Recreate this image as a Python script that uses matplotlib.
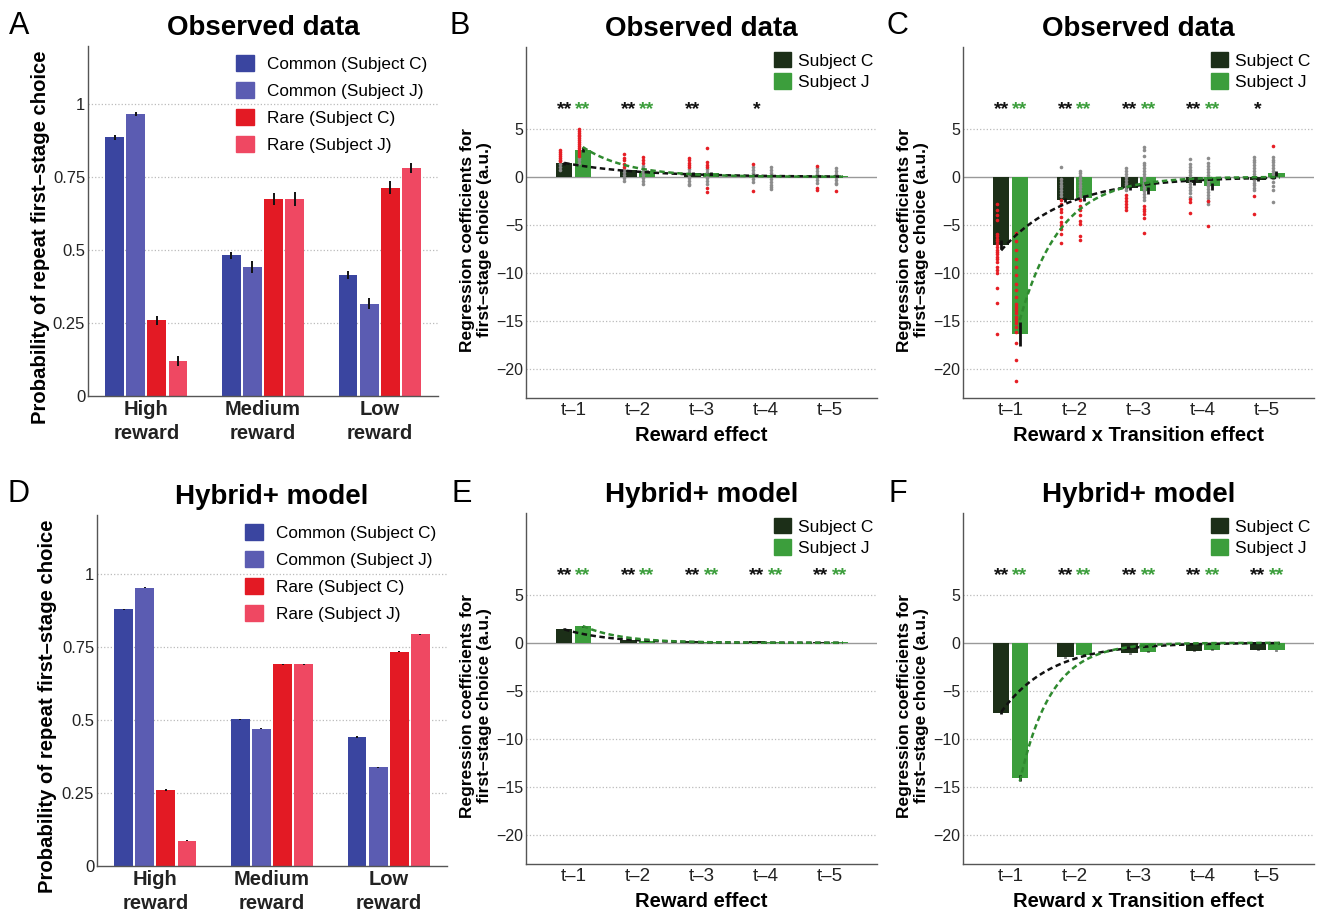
import numpy as np
import matplotlib
matplotlib.use('Agg')
import matplotlib.pyplot as plt
from matplotlib.patches import Patch

plt.rcParams['font.family'] = ['Liberation Sans', 'DejaVu Sans']

# ---- probability panels (A observed, D model) ----
groups = ['High\nreward', 'Medium\nreward', 'Low\nreward']
prob_labels = ['Common (Subject C)', 'Common (Subject J)', 'Rare (Subject C)', 'Rare (Subject J)']
prob_colors = ['#3a45a0', '#5b5cb2', '#e31a24', '#ef4862']

a_common_c = [0.887, 0.482, 0.415]
a_common_j = [0.967, 0.442, 0.316]
a_rare_c = [0.259, 0.675, 0.714]
a_rare_j = [0.120, 0.675, 0.782]
a_err_common_c = [0.008, 0.013, 0.013]
a_err_common_j = [0.007, 0.020, 0.019]
a_err_rare_c = [0.014, 0.020, 0.022]
a_err_rare_j = [0.018, 0.025, 0.018]

d_common_c = [0.878, 0.502, 0.441]
d_common_j = [0.951, 0.469, 0.338]
d_rare_c = [0.260, 0.690, 0.733]
d_rare_j = [0.087, 0.690, 0.792]
d_err = [0.002, 0.002, 0.002]

# ---- regression panels ----
lags = ['t\u20131', 't\u20132', 't\u20133', 't\u20134', 't\u20135']
subj_colors = ['#1c2f18', '#3c9e3c']
red = '#e61e25'
gray = '#8c8c8c'

# B: reward effect, observed
b_c = [1.42, 0.66, 0.38, 0.20, 0.10]
b_j = [2.84, 0.59, 0.35, 0.14, 0.07]
b_c_err = [0.15, 0.10, 0.10, 0.10, 0.10]
b_j_err = [0.25, 0.10, 0.10, 0.10, 0.10]
b_fit_c = (1.45, 1.15)   # amplitude, decay
b_fit_j = (3.1, 0.7)
b_stars_c = ['**', '**', '**', '*', '']
b_stars_j = ['**', '**', '', '', '']
b_red_c = [[2.8, 2.6, 2.4, 2.2, 2.0, 1.8, 1.6], [2.4, 2.0, 1.7, 1.35, 1.05],
           [1.95, 1.7, 1.45, 1.2, 1.0], [1.3, -1.5], [1.15, -1.15, -1.35]]
b_gray_c = [[1.3, 1.0, 0.7], [0.8, 0.5, 0.2, -0.1, -0.4],
            [0.8, 0.5, 0.2, -0.1, -0.4, -0.7, -0.9], [1.0, 0.7, 0.4, 0.1, -0.2, -0.5],
            [0.9, 0.6, 0.3, 0.0, -0.3, -0.6]]
b_red_j = [[5.0, 4.8, 4.6, 4.4, 4.2, 4.0, 3.8, 3.6, 3.4, 3.2, 3.0, 2.8, 2.6, 2.4, 2.2],
           [2.05, 1.7, 1.45], [3.0, 1.5, 1.25, 1.0, -1.15, -1.6], [], [-1.5]]
b_gray_j = [[2.0, 1.7, 1.4], [1.1, 0.8, 0.5, 0.2, -0.1, -0.4, -0.7],
            [0.8, 0.5, 0.2, -0.1, -0.4, -0.7],
            [1.0, 0.7, 0.4, 0.1, -0.2, -0.5, -0.8, -1.1, -1.25],
            [0.9, 0.6, 0.3, 0.0, -0.3, -0.6, -0.75]]

# C: reward x transition effect, observed
c_c = [-7.06, -2.42, -1.14, -0.62, -0.28]
c_j = [-16.3, -2.18, -1.45, -1.00, 0.35]
c_c_err = [0.45, 0.25, 0.25, 0.25, 0.20]
c_j_err = [1.25, 0.30, 0.35, 0.35, 0.30]
c_fit_c = (-7.65, 1.0)
c_fit_j = (-14.9, 0.63)
c_stars_c = ['**', '**', '**', '**', '*']
c_stars_j = ['**', '**', '**', '**', '']
c_red_c = [[-2.8, -3.5, -4.0, -4.5, -5.9, -6.2, -6.45, -6.7, -6.95, -7.3, -7.65, -7.85, -8.0,
            -8.3, -8.5, -8.85, -9.4, -9.7, -10.0, -11.6, -13.1, -16.3],
           [-2.45, -2.8, -3.35, -3.65, -4.2, -4.7, -5.05, -5.4, -5.9, -6.9],
           [-1.9, -2.2, -2.5, -2.8, -3.1, -3.4], [-2.3, -2.6, -3.75], [-2.0, -3.85]]
c_gray_c = [[], [1.0, -0.2, -0.5, -0.8, -1.1, -1.4, -1.7, -2.0],
            [0.9, 0.6, 0.3, 0.0, -0.3, -0.6, -0.9, -1.2, -1.4],
            [1.9, 1.35, 1.05, 0.75, 0.45, 0.15, -0.15, -0.45, -0.75, -1.05, -1.35, -1.7, -2.1],
            [2.1, 1.8, 1.5, 1.2, 0.9, 0.6, 0.3, 0.0, -0.3, -0.6, -0.9, -1.2, -1.4]]
c_red_j = [[-5.85, -6.7, -7.6, -8.5, -9.4, -10.25, -11.1, -11.8, -12.5, -13.2, -13.5, -13.9,
            -14.2, -14.6, -14.9, -15.2, -15.6, -16.1, -17.3, -19.1, -21.2],
           [-2.45, -3.0, -3.5, -4.0, -4.55, -4.9, -6.2, -6.6],
           [-3.0, -3.3, -3.6, -3.9, -4.3, -5.85], [-2.5, -5.15], [3.25]]
c_gray_j = [[], [0.65, 0.4, 0.1, -0.2, -0.5, -0.8, -1.1, -1.4, -1.7, -2.0, -2.3],
            [3.15, 2.8, 2.2, 1.4, 1.2, 0.9, 0.6, 0.3, 0.0, -0.3, -0.6, -0.9, -1.2, -1.5,
             -1.8, -2.1, -2.4],
            [2.0, 1.4, 1.1, 0.8, 0.5, 0.2, -0.1, -0.4, -0.7, -1.0, -1.3, -1.6, -1.9, -2.2,
             -2.5, -2.8],
            [2.1, 1.8, 1.5, 1.2, 0.9, 0.6, 0.3, -0.1, -0.5, -1.0, -1.4, -2.65]]

# E: reward effect, model
e_c = [1.45, 0.31, 0.17, 0.14, 0.10]
e_j = [1.70, 0.20, 0.10, 0.07, 0.07]
e_err = [0.05, 0.03, 0.03, 0.03, 0.03]
e_fit_c = (1.4, 0.7)
e_fit_j = (1.75, 0.6)
e_stars = ['**', '**', '**', '**', '**']

# F: reward x transition effect, model
f_c = [-7.30, -1.49, -1.07, -0.83, -0.73]
f_j = [-14.05, -1.25, -0.93, -0.73, -0.76]
f_c_err = [0.10, 0.05, 0.05, 0.05, 0.05]
f_j_err = [0.30, 0.05, 0.05, 0.05, 0.05]
f_fit_c = (-7.2, 0.78)
f_fit_j = (-14.4, 0.49)


W, H = 1326, 916
fig = plt.figure(figsize=(W / 100, H / 100), dpi=100)


def px_axes(left, top, right, bottom):
    return fig.add_axes([left / W, 1 - bottom / H, (right - left) / W, (bottom - top) / H])


def style_axes(ax):
    for s in ['top', 'right']:
        ax.spines[s].set_visible(False)
    for s in ['left', 'bottom']:
        ax.spines[s].set_color('#555555')
        ax.spines[s].set_linewidth(1.0)
    ax.tick_params(length=0, colors='#222222')


def prob_panel(ax, series, errs, title, label_x):
    style_axes(ax)
    x = np.arange(1, len(groups) + 1)
    pitch = 0.181
    for i, (vals, err) in enumerate(zip(series, errs)):
        xi = x + (i - 1.5) * pitch
        ax.bar(xi, vals, width=0.162, color=prob_colors[i], label=prob_labels[i], zorder=2)
        ax.errorbar(xi, vals, yerr=err, fmt='none', ecolor='#111111', elinewidth=1.4,
                    capsize=0, zorder=3)
    ax.set_xlim(0.5, 3.5)
    ax.set_ylim(0, 1.2)
    ax.set_yticks([0, 0.25, 0.5, 0.75, 1])
    ax.set_yticklabels(['0', '0.25', '0.5', '0.75', '1'], fontsize=12)
    ax.set_xticks(x)
    ax.set_xticklabels(groups, fontsize=14.5, fontweight='bold', linespacing=1.35)
    ax.tick_params(axis='y', pad=2)
    ax.tick_params(axis='x', pad=3)
    for yv in [0.25, 0.5, 0.75, 1]:
        ax.axhline(yv, color='#bbbbbb', ls=':', lw=0.9, zorder=0)
    ax.set_ylabel('Probability of repeat first\u2013stage choice', fontsize=14.6,
                  fontweight='bold')
    ax.yaxis.set_label_coords(label_x, 0.455)
    ax.set_title(title, fontsize=20, fontweight='bold', pad=8)
    handles = [Patch(color=c) for c in prob_colors]
    ax.legend(handles, prob_labels, loc='upper right', bbox_to_anchor=(0.968, 0.975),
              frameon=False, fontsize=12.3, handlelength=1.08, handleheight=1.08,
              labelspacing=0.6, handletextpad=0.72, borderpad=0, borderaxespad=0)


def reg_panel(ax, cv, jv, cerr, jerr, fitc, fitj, stars_c, stars_j, xlabel, title,
              red_c=None, gray_c=None, red_j=None, gray_j=None):
    style_axes(ax)
    x = np.arange(1, len(lags) + 1)
    off = 0.145
    ax.bar(x - off, cv, width=0.255, color=subj_colors[0], zorder=2)
    ax.bar(x + off, jv, width=0.255, color=subj_colors[1], zorder=2)
    ax.errorbar(x - off, cv, yerr=cerr, fmt='none', ecolor='#111111', elinewidth=2,
                capsize=0, zorder=4)
    ax.errorbar(x + off, jv, yerr=jerr, fmt='none', ecolor='#111111', elinewidth=2,
                capsize=0, zorder=4)
    if red_c is not None:
        for k in range(len(lags)):
            for vals, xc, col in [(gray_c[k], x[k] - off, gray), (red_c[k], x[k] - off, red),
                                  (gray_j[k], x[k] + off, gray), (red_j[k], x[k] + off, red)]:
                if vals:
                    ax.plot([xc - 0.06] * len(vals), vals, 'o', ms=2.6, color=col, mew=0,
                            zorder=3)
    for (amp, tau), x0, col in [(fitc, 1 - off, '#111111'), (fitj, 1 + off, '#2f8a2f')]:
        xs = np.linspace(x0, 5.2, 120)
        ax.plot(xs, amp * np.exp(-(xs - x0) / tau), color=col, lw=1.8, dashes=(2.2, 1.4),
                zorder=5)
    for k in range(len(lags)):
        if stars_c[k]:
            ax.text(x[k] - off, 6.5, stars_c[k], ha='center', va='baseline', fontsize=14,
                    fontweight='bold', color='#111111')
        if stars_j[k]:
            ax.text(x[k] + off, 6.5, stars_j[k], ha='center', va='baseline', fontsize=14,
                    fontweight='bold', color=subj_colors[1])
    ax.axhline(0, color='#999999', lw=1.0, zorder=1)
    for yv in [5, -5, -10, -15, -20]:
        ax.axhline(yv, color='#bbbbbb', ls=':', lw=0.9, zorder=0)
    ax.set_xlim(0.26, 5.73)
    ax.set_ylim(-23, 13.5)
    ax.set_yticks([5, 0, -5, -10, -15, -20])
    ax.set_yticklabels(['5', '0', '\u22125', '\u221210', '\u221215', '\u221220'],
                       fontsize=11.5)
    ax.set_xticks(x)
    ax.set_xticklabels(lags, fontsize=13.5)
    ax.tick_params(axis='y', pad=2)
    ax.tick_params(axis='x', pad=3)
    ax.set_xlabel(xlabel, fontsize=14.5, fontweight='bold', labelpad=5)
    ax.set_ylabel('Regression coefficients for\nfirst\u2013stage choice (a.u.)',
                  fontsize=12.5, fontweight='bold', linespacing=1.12)
    ax.yaxis.set_label_coords(-0.098, 0.45)
    ax.set_title(title, fontsize=20, fontweight='bold', pad=8)
    handles = [Patch(color=c) for c in subj_colors]
    ax.legend(handles, ['Subject C', 'Subject J'], loc='upper right',
              bbox_to_anchor=(0.99, 0.986), frameon=False, fontsize=12.5,
              handlelength=1.0, handleheight=1.0, labelspacing=0.25, handletextpad=0.4,
              borderpad=0, borderaxespad=0)


axA = px_axes(88, 46, 438, 396)
prob_panel(axA, [a_common_c, a_common_j, a_rare_c, a_rare_j],
           [a_err_common_c, a_err_common_j, a_err_rare_c, a_err_rare_j], 'Observed data',
           -0.108)

axB = px_axes(526, 47, 877, 398)
reg_panel(axB, b_c, b_j, b_c_err, b_j_err, b_fit_c, b_fit_j, b_stars_c, b_stars_j,
          'Reward effect', 'Observed data', b_red_c, b_gray_c, b_red_j, b_gray_j)

axC = px_axes(963, 47, 1314, 398)
reg_panel(axC, c_c, c_j, c_c_err, c_j_err, c_fit_c, c_fit_j, c_stars_c, c_stars_j,
          'Reward x Transition effect', 'Observed data', c_red_c, c_gray_c, c_red_j, c_gray_j)

axD = px_axes(97, 515, 447, 866)
prob_panel(axD, [d_common_c, d_common_j, d_rare_c, d_rare_j], [d_err] * 4, 'Hybrid+ model',
           -0.114)

axE = px_axes(526, 513, 877, 864)
reg_panel(axE, e_c, e_j, e_err, e_err, e_fit_c, e_fit_j, e_stars, e_stars,
          'Reward effect', 'Hybrid+ model')

axF = px_axes(963, 513, 1314, 864)
reg_panel(axF, f_c, f_j, f_c_err, f_j_err, f_fit_c, f_fit_j, e_stars, e_stars,
          'Reward x Transition effect', 'Hybrid+ model')

# panel letters
for letter, xp, yp in [('A', 9, 34), ('B', 449, 34), ('C', 886, 34),
                       ('D', 8, 502), ('E', 451, 502), ('F', 889, 502)]:
    fig.text(xp / W, 1 - yp / H, letter, fontsize=22, ha='left', va='baseline')

fig.savefig('out.png', dpi=100)
